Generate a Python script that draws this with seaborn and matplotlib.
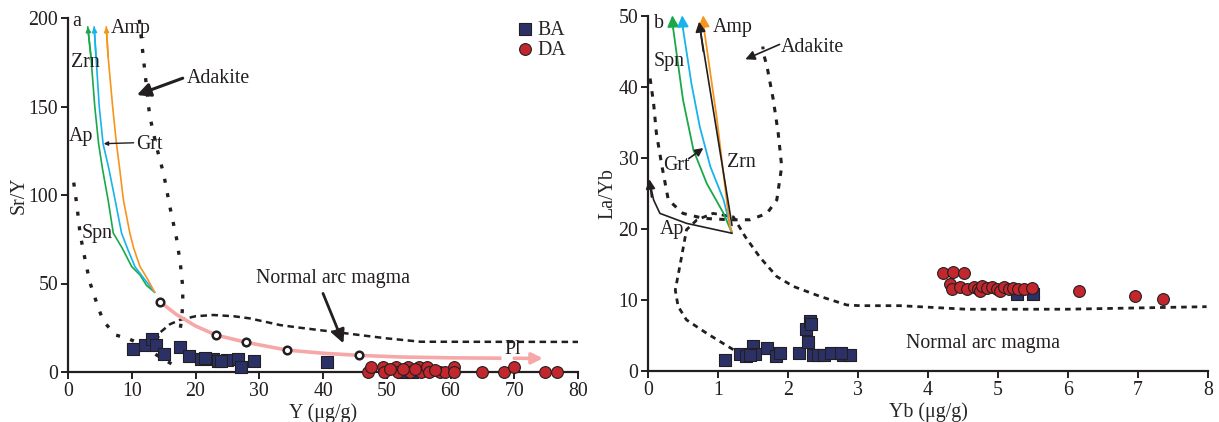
import numpy as np
import pandas as pd
import matplotlib
matplotlib.use("Agg")
import matplotlib.pyplot as plt
import seaborn as sns

# ---------------- data ----------------
# Panel a: Y (ug/g) vs Sr/Y
ba_y = [10.2, 12.1, 13.1, 13.8, 15.1, 17.5, 19.0, 20.9, 22.8, 23.6, 24.9, 26.6, 27.1, 29.2,
        21.5, 24.0, 40.6, 52.6, 53.9]
ba_sry = [13.0, 15.3, 18.5, 15.3, 10.0, 14.3, 9.0, 7.2, 7.2, 6.4, 6.8, 7.5, 3.0, 6.2,
          7.8, 6.0, 5.5, 0.0, 0.0]
da_y = [47.1, 47.6, 49.4, 49.5, 51.5, 51.8, 53.4, 53.7, 55.0, 55.3, 56.3, 56.6, 58.4, 59.2,
        60.5, 60.5, 65.0, 68.4, 70.0, 74.9, 76.7, 50.5, 52.5, 54.5, 57.5]
da_sry = [0.0, 3.0, 3.0, 0.0, 3.0, 0.0, 3.0, 0.0, 3.0, 0.0, 3.0, 0.0, 0.0, 0.0,
          3.0, 0.0, 0.0, 0.0, 3.0, 0.0, 0.0, 1.5, 1.5, 1.5, 1.0]

# Panel b: Yb (ug/g) vs La/Yb
ba_yb = [1.10, 1.32, 1.40, 1.47, 1.50, 1.53, 1.70, 1.83, 1.89, 2.16, 2.25, 2.28, 2.32, 2.33,
         2.36, 2.43, 2.51, 2.62, 2.78, 2.88, 1.45, 2.75, 5.27, 5.50]
ba_layb = [1.6, 2.4, 2.1, 2.4, 3.5, 2.4, 3.2, 2.1, 2.6, 2.5, 5.9, 4.1, 7.0, 6.6,
           2.2, 2.3, 2.3, 2.6, 2.2, 2.3, 2.2, 2.5, 10.8, 10.8]
da_yb = [4.21, 4.36, 4.51, 4.31, 4.34, 4.46, 4.55, 4.65, 4.72, 4.74, 4.77, 4.84, 4.91, 4.98,
         5.03, 5.08, 5.15, 5.22, 5.29, 5.37, 5.48, 6.15, 6.96, 7.36]
da_layb = [13.8, 13.9, 13.8, 12.25, 11.5, 11.9, 11.5, 11.9, 11.6, 11.2, 12.0, 11.7, 11.9, 11.6,
           11.3, 11.9, 11.5, 11.7, 11.5, 11.6, 11.7, 11.3, 10.5, 10.1]

# Panel a reference curves
a_adakite_left = [(0.9, 107), (1.4, 94), (1.9, 78), (2.6, 65), (3.4, 51), (4.5, 39), (5.5, 29),
                  (7.4, 21), (9.7, 18.5), (10.3, 17.5), (12.0, 14.5), (13.9, 9.6), (15.8, 5.5), (17.6, 2)]
a_adakite_right = [(11.2, 199), (11.6, 185), (12.2, 165), (12.8, 145), (13.9, 127), (15.0, 112),
                   (16.0, 93), (17.0, 76), (17.6, 62), (18.0, 48), (18.0, 38), (17.8, 29), (17.5, 22)]
a_normal_arc = [(13.8, 17), (14.5, 22.5), (16.0, 27), (17.6, 29.5), (20.0, 31.5), (22.8, 32.2),
                (26.0, 31.5), (28.5, 30.3), (33.3, 26.5), (36.4, 25.0), (43.7, 21.8), (50.0, 19.0),
                (55.3, 17.1), (80.0, 17.0)]
a_pl_path = [(14.4, 39.7), (17.0, 32.5), (20.0, 26.0), (23.2, 20.9), (27.9, 16.8), (34.3, 12.4),
             (40.0, 10.6), (45.6, 9.4), (52.0, 8.5), (60.0, 8.0), (68.0, 7.8), (74.5, 7.7)]
a_pl_steps = [(14.4, 39.7), (23.2, 20.9), (27.9, 16.8), (34.3, 12.4), (45.6, 9.4)]
a_green = [(13.6, 45), (12.3, 49), (11.3, 54.8), (10.0, 59.5), (8.5, 70), (7.1, 78.5), (6.3, 97),
           (5.4, 115), (4.8, 129), (4.2, 150), (3.6, 178), (3.1, 195)]
a_blue = [(13.6, 45), (12.3, 51), (10.5, 59.5), (9.3, 70), (8.4, 78.5), (7.4, 97), (6.4, 115),
          (5.5, 129), (4.9, 150), (4.4, 178), (4.1, 195)]
a_orange = [(13.6, 45), (12.4, 53), (11.3, 59.5), (10.3, 70), (9.7, 78.5), (8.7, 97), (8.1, 115),
            (7.6, 129), (7.0, 150), (6.3, 178), (6.0, 195)]

# Panel b reference curves
b_adakite = [(0.03, 41.2), (0.08, 37.7), (0.12, 33.5), (0.20, 28.8), (0.29, 24.1), (0.50, 22.2),
             (0.79, 21.5), (1.17, 21.3), (1.46, 21.3), (1.70, 22.2), (1.84, 24.1), (1.91, 28.8),
             (1.86, 33.5), (1.79, 38.2), (1.70, 42.9), (1.65, 44.7), (1.64, 45.7)]
b_normal_arc = [(1.22, 3.0), (0.84, 5.3), (0.55, 7.2), (0.43, 9.1), (0.39, 11.4), (0.48, 16.1),
                (0.55, 19.9), (0.70, 21.3), (0.93, 22.2), (1.22, 21.7), (1.39, 18.9), (1.60, 16.0),
                (1.84, 13.3), (2.08, 11.9), (2.46, 10.5), (2.84, 9.3), (3.03, 9.2), (3.60, 9.2),
                (4.55, 8.7), (5.98, 8.7), (7.98, 9.06)]
b_green = [(1.2, 19.4), (1.08, 22.2), (0.84, 26.4), (0.65, 31.1), (0.50, 38.2), (0.36, 48.2)]
b_blue = [(1.2, 19.4), (1.08, 24.1), (0.89, 28.8), (0.74, 34.4), (0.62, 40.5), (0.50, 48.2)]
b_orange = [(1.2, 19.6), (1.17, 20.3), (0.98, 35.8), (0.80, 48.2)]
b_black = [(1.2, 20.5), (0.74, 48.5)]
b_ap = [(1.2, 19.4), (0.55, 20.8), (0.17, 22.2), (0.08, 24.1), (0.03, 26.4)]

# ---------------- style ----------------
sns.set_theme(style="ticks")
plt.rcParams["font.family"] = ["Liberation Serif", "DejaVu Serif"]
plt.rcParams["mathtext.fontset"] = "stix"
FS = 14.3
NAVY = "#2b3166"
RED = "#c1272d"
GREEN = "#1aa84a"
BLUE = "#19b3ec"
ORANGE = "#f7941d"
PINK = "#f6a8a8"
INK = "#231f20"
MS = 72

fig = plt.figure(figsize=(12.19, 4.22), dpi=100)
axa = fig.add_axes([68 / 1219, 50 / 422, 510 / 1219, 354 / 422])
axb = fig.add_axes([648 / 1219, 51 / 422, 560 / 1219, 355 / 422])


def style_axis(ax):
    for s in ["top", "right"]:
        ax.spines[s].set_visible(False)
    for s in ["left", "bottom"]:
        ax.spines[s].set_linewidth(1.6)
        ax.spines[s].set_color(INK)
    ax.tick_params(direction="out", length=5, width=1.4, labelsize=FS, colors=INK, pad=2)
    ax.set_facecolor("white")


def line(ax, pts, **kw):
    xs, ys = zip(*pts)
    ax.plot(xs, ys, **kw)


def arrow(ax, tip, tail, color=INK, lw=1.2, ms=12):
    ax.annotate("", xy=tip, xytext=tail, annotation_clip=False,
                arrowprops=dict(arrowstyle="-|>", color=color, lw=lw,
                                mutation_scale=ms, shrinkA=0, shrinkB=0))


# ---------------- panel a ----------------
ax = axa
style_axis(ax)
line(ax, a_adakite_left, color=INK, lw=2.4, ls=(0, (1.2, 3.2)), dash_capstyle="butt")
line(ax, a_adakite_right, color=INK, lw=2.4, ls=(0, (1.2, 3.2)), dash_capstyle="butt")
line(ax, a_normal_arc, color=INK, lw=1.8, ls=(0, (2.6, 1.8)))
line(ax, a_pl_path[:-1], color=PINK, lw=2.6, solid_capstyle="butt")
arrow(ax, a_pl_path[-1], (a_pl_path[-1][0] - 4.5, a_pl_path[-1][1] + 0.05), PINK, 2.6, 16)
for pts, c in [(a_green, GREEN), (a_blue, BLUE), (a_orange, ORANGE)]:
    line(ax, pts, color=c, lw=1.2)
    arrow(ax, pts[-1], pts[-2], c, 1.2, 7)
sx, sy = zip(*a_pl_steps)
ax.scatter(sx, sy, s=30, facecolor="white", edgecolor=INK, linewidth=1.8, zorder=4)

sns.scatterplot(x=ba_y, y=ba_sry, ax=ax, marker="s", s=MS, color=NAVY, edgecolor=INK,
                linewidth=0.8, label="BA", zorder=5, clip_on=False)
sns.scatterplot(x=da_y, y=da_sry, ax=ax, marker="o", s=MS, color=RED, edgecolor=INK,
                linewidth=0.8, label="DA", zorder=5, clip_on=False)

ax.set_xlim(0, 80)
ax.set_ylim(0, 200)
ax.set_xticks(range(0, 81, 10))
ax.set_yticks(range(0, 201, 50))
ax.set_xlabel("Y (μg/g)", fontsize=FS, labelpad=2)
ax.set_ylabel("Sr/Y", fontsize=FS, labelpad=0)

txt = dict(fontsize=FS, color=INK)
ax.text(1.4, 198, "a", ha="center", va="center", **txt)
ax.text(9.9, 194, "Amp", ha="center", va="center", **txt)
ax.text(2.7, 175, "Zrn", ha="center", va="center", **txt)
ax.text(2.0, 133, "Ap", ha="center", va="center", **txt)
ax.text(12.8, 128.5, "Grt", ha="center", va="center", **txt)
arrow(ax, (5.6, 129), (10.3, 129.5), INK, 1.0, 6)
ax.text(4.6, 78, "Spn", ha="center", va="center", **txt)
ax.text(18.6, 166, "Adakite", ha="left", va="center", **txt)
arrow(ax, (10.8, 156.5), (18.0, 166), INK, 2.2, 20)
ax.text(41.6, 53, "Normal arc magma", ha="center", va="center", **txt)
arrow(ax, (43.2, 16.2), (40.0, 44.4), INK, 2.0, 20)
ax.text(69.8, 12.5, "Pl", ha="center", va="center", **txt)

leg = ax.legend(loc="upper left", bbox_to_anchor=(0.862, 1.015), frameon=False, fontsize=FS,
                handletextpad=0.1, borderaxespad=0, labelspacing=0.05, handlelength=1.0)

# ---------------- panel b ----------------
ax = axb
style_axis(ax)
line(ax, b_adakite, color=INK, lw=2.2, ls=(0, (1.8, 2.4)))
line(ax, b_normal_arc, color=INK, lw=2.0, ls=(0, (2.0, 1.8)))
for pts, c in [(b_green, GREEN), (b_blue, BLUE), (b_orange, ORANGE)]:
    line(ax, pts, color=c, lw=1.3)
    arrow(ax, (pts[-1][0] - 0.012, pts[-1][1] + 1.9), pts[-1], c, 1.3, 17)
line(ax, b_black, color=INK, lw=1.2)
arrow(ax, (0.73, 49.2), (0.79, 45.0), INK, 1.2, 15)
line(ax, b_ap, color=INK, lw=1.2)
arrow(ax, (0.02, 27.0), (0.05, 24.5), INK, 1.2, 14)

sns.scatterplot(x=ba_yb, y=ba_layb, ax=ax, marker="s", s=MS, color=NAVY, edgecolor=INK,
                linewidth=0.8, zorder=5, legend=False)
sns.scatterplot(x=da_yb, y=da_layb, ax=ax, marker="o", s=MS, color=RED, edgecolor=INK,
                linewidth=0.8, zorder=5, legend=False)

ax.set_xlim(0, 8)
ax.set_ylim(0, 50)
ax.set_xticks(range(0, 9))
ax.set_yticks(range(0, 51, 10))
ax.set_xlabel("Yb (μg/g)", fontsize=FS, labelpad=2)
ax.set_ylabel("La/Yb", fontsize=FS, labelpad=1)

ax.text(0.15, 49.0, "b", ha="center", va="center", **txt)
ax.text(0.92, 48.4, "Amp", ha="left", va="center", **txt)
ax.text(0.3, 43.6, "Spn", ha="center", va="center", **txt)
ax.text(0.40, 29.0, "Grt", ha="center", va="center", **txt)
arrow(ax, (0.79, 31.4), (0.58, 29.9), INK, 1.2, 12)
ax.text(1.34, 29.3, "Zrn", ha="center", va="center", **txt)
ax.text(0.34, 19.9, "Ap", ha="center", va="center", **txt)
ax.text(1.90, 45.6, "Adakite", ha="left", va="center", **txt)
arrow(ax, (1.39, 43.9), (1.88, 46.0), INK, 1.2, 14)
ax.text(4.79, 3.9, "Normal arc magma", ha="center", va="center", **txt)

fig.savefig("out.png", dpi=100, facecolor="white")
